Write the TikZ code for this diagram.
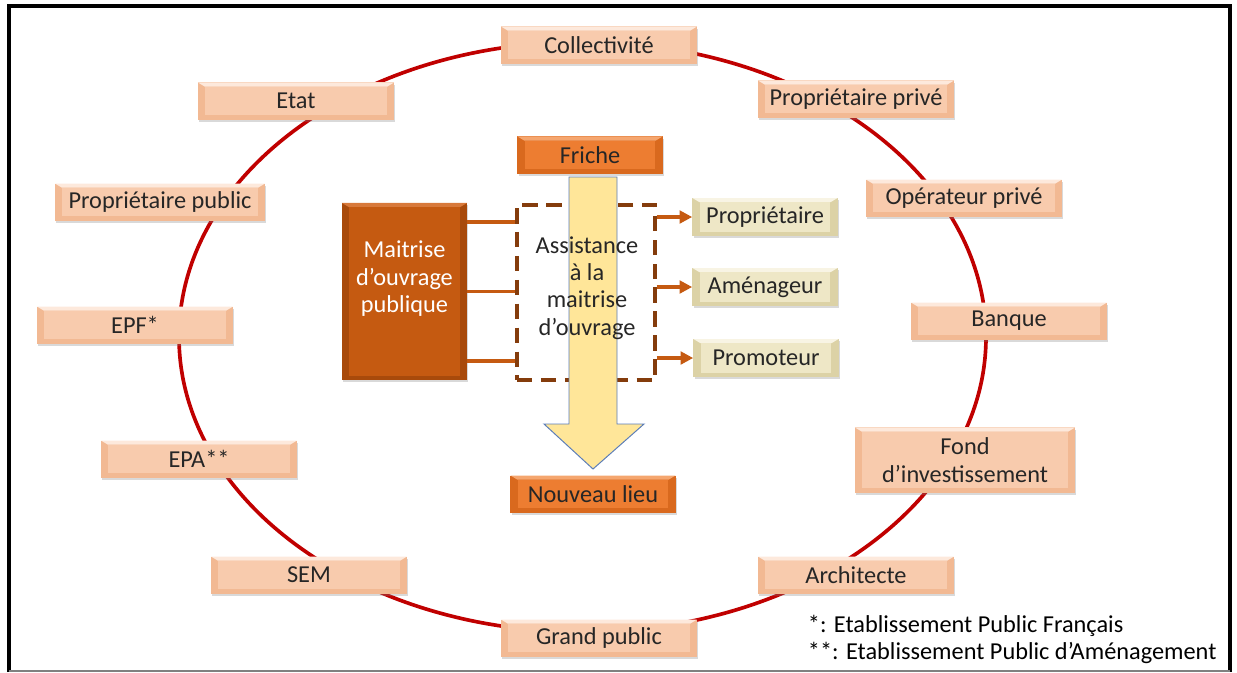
\documentclass[tikz,border=0pt]{standalone}
\usepackage{fontspec}
\setmainfont{Carlito}
\usetikzlibrary{arrows.meta,shadows}

\definecolor{ringred}{HTML}{C00000}
\definecolor{textgray}{HTML}{262626}
\definecolor{salface}{HTML}{F8CBAD}
\definecolor{saltop}{HTML}{FDE9DC}
\definecolor{salside}{HTML}{F2B993}
\definecolor{orface}{HTML}{ED7D31}
\definecolor{ortop}{HTML}{F5A66F}
\definecolor{orside}{HTML}{D9691E}
\definecolor{mopface}{HTML}{C55A11}
\definecolor{moptop}{HTML}{D8793A}
\definecolor{mopside}{HTML}{A84A0B}
\definecolor{beface}{HTML}{EEE7C6}
\definecolor{betop}{HTML}{F8F4E4}
\definecolor{beside}{HTML}{DCD2A6}
\definecolor{amobrown}{HTML}{843C0C}
\definecolor{flowfill}{HTML}{FFE699}
\definecolor{flowline}{HTML}{5B7DB8}

\begin{document}
\begin{tikzpicture}[x=0.025cm, y=-0.025cm,
    font=\fontsize{17.3}{19.5}\selectfont, text=textgray,
    bevel/.style n args={3}{fill=#1, inner sep=0pt, align=center,
      path picture={
        \fill[#2] (path picture bounding box.north west) -- (path picture bounding box.north east)
          -- ++(-5pt,-3pt) -- ([shift={(5pt,-3pt)}]path picture bounding box.north west) -- cycle;
        \fill[#3] ([shift={(5pt,-3pt)}]path picture bounding box.north west)
          rectangle ([shift={(-5pt,3pt)}]path picture bounding box.south east);
      }},
    boxshadow/.style={drop shadow={opacity=0.3, shadow xshift=1pt, shadow yshift=-1.5pt}},
    actor/.style={bevel={salside}{saltop}{salface}, boxshadow,
      minimum width=4.9cm, minimum height=0.925cm},
    placebox/.style={bevel={orside}{ortop}{orface}, boxshadow,
      minimum width=3.625cm, minimum height=0.925cm},
    mopbox/.style={bevel={mopside}{moptop}{mopface}, boxshadow,
      minimum width=3.125cm, minimum height=4.425cm},
    rolebox/.style={bevel={beside}{betop}{beface}, boxshadow,
      minimum width=3.625cm, minimum height=0.95cm},
    amobox/.style={draw=amobrown, line width=2.4pt, dash pattern=on 11pt off 6pt,
      minimum width=3.45cm, minimum height=4.375cm},
    link/.style={draw=mopface, line width=2.5pt},
    linkarrow/.style={link, -{Triangle[length=9pt,width=9pt]}},
    flowarrow/.style={fill=flowfill, draw=flowline, line width=0.7pt}]

  \useasboundingbox (0,0) rectangle (1237,672);
  \draw[line width=0.1cm] (9,672) -- (9,6) -- (1230,6) -- (1230,672);
  \draw[gray, line width=1pt] (9,671) -- (1230,671);

  \draw[ringred, line width=2.6pt] (582.5,337) ellipse [x radius=403.5, y radius=295];

  \node[actor] (coll) at (599,45) {Collectivité};
  \node[actor] (etat) at (296,101) {Etat};
  \node[actor] (pprive) at (856,99) {Propriétaire privé};
  \node[actor, minimum width=5.25cm] (ppublic) at (160,202) {Propriétaire public};
  \node[actor] (oprive) at (964,198) {Opérateur privé};
  \node[actor] (epf) at (135,325) {EPF*};
  \node[actor] (banque) at (1009,321) {Banque};
  \node[actor] (epa) at (199,459) {EPA**};
  \node[actor, minimum width=5.5cm, minimum height=1.625cm] (fond) at (965,460) {Fond\\d’investissement};
  \node[actor] (sem) at (309,575) {SEM};
  \node[actor] (archi) at (856,575) {Architecte};
  \node[actor] (gpublic) at (599,638) {Grand public};

  \node[placebox] (friche) at (590,155) {Friche};
  \node[placebox, minimum width=4.125cm] (nouveau) at (593,494) {Nouveau lieu};

  \node[mopbox] (mop) at (404.5,291.5) {};
  \node[text=white, align=center] (moptext) at (404.5,279) {Maitrise\\d’ouvrage\\publique};

  \node[amobox] (amo) at (586,292.5) {};
  \draw[flowarrow] (569,177) -- (617,177) -- (617,424) -- (644,424) -- (593,469)
    -- (544,424) -- (569,424) -- cycle;
  \node[align=center] (amotext) at (587,288) {Assistance\\à la\\maitrise\\d’ouvrage};

  \node[rolebox] (prop) at (765,217) {Propriétaire};
  \node[rolebox] (amen) at (765,287) {Aménageur};
  \node[rolebox] (promo) at (766,358) {Promoteur};

  \path (mop.east) ++(0,-69.5) coordinate (m1) (mop.east) ++(0,69.5) coordinate (m3);
  \draw[link] (m1) -- (m1 -| amo.west);
  \draw[link] (mop.east) -- (mop.east -| amo.west);
  \draw[link] (m3) -- (m3 -| amo.west);
  \draw[linkarrow] (amo.east |- prop) -- (prop.west);
  \draw[linkarrow] (amo.east |- amen) -- (amen.west);
  \draw[linkarrow] (amo.east |- promo) -- (promo.west);

  \node[anchor=west, text=black] (leg1) at (803,626) {*: Etablissement Public Français};
  \node[anchor=west, text=black] (leg2) at (803,653) {**: Etablissement Public d’Aménagement};
\end{tikzpicture}
\end{document}
